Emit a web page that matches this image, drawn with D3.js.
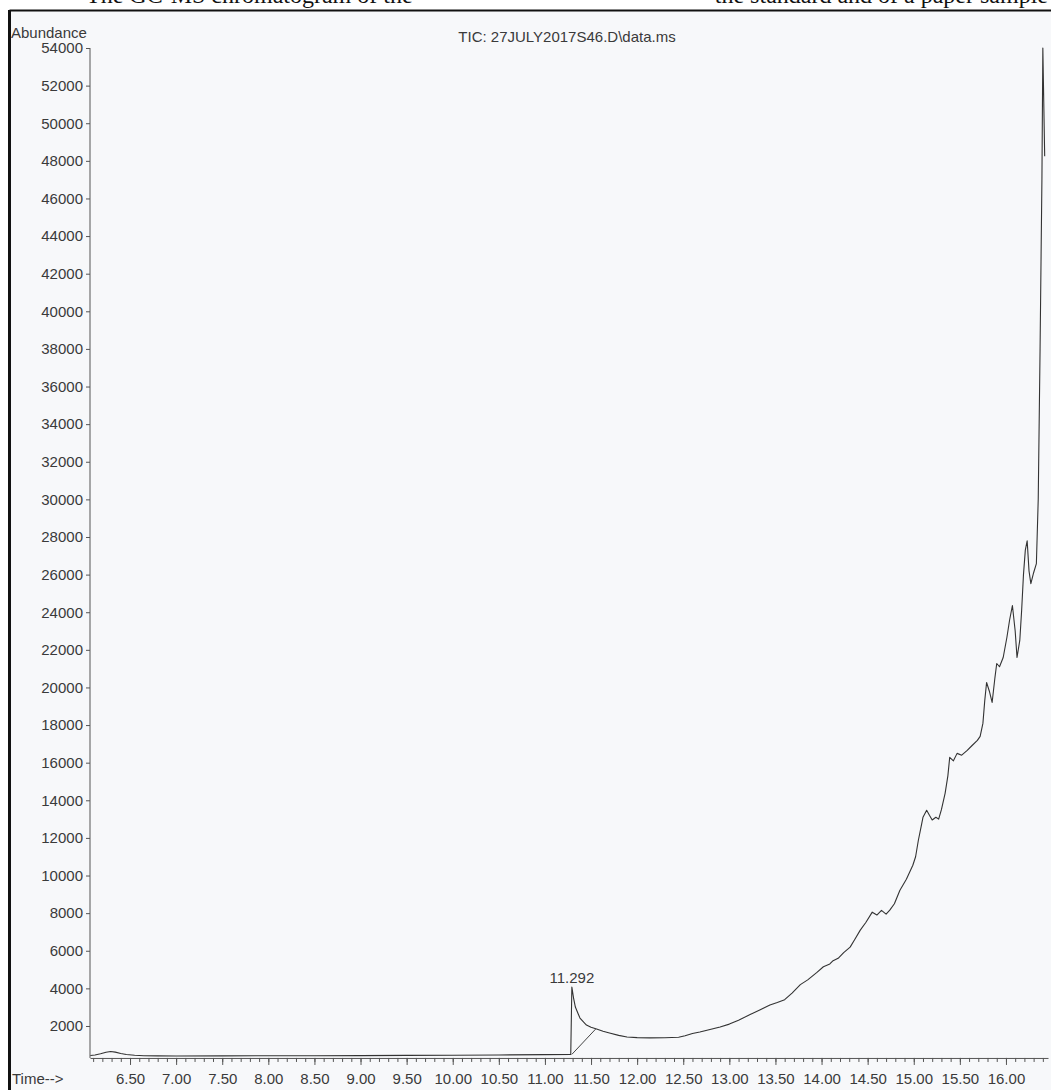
<!DOCTYPE html>
<html>
<head>
<meta charset="utf-8">
<script src="https://cdn.jsdelivr.net/npm/d3@7"></script>
<style>
  body { margin: 0; background: #fff; }
  svg { display: block; }
  .axis text { font-family: "Liberation Sans", Arial, sans-serif; font-size: 15px; fill: #3a3a3a; }
  .axis path, .axis line { stroke: #555; }
</style>
</head>
<body>
<div id="chart-area"></div>
<script>
// Data (time in min, abundance)
const times = [
  6.07, 6.12, 6.18, 6.24, 6.29, 6.34, 6.40, 6.46, 6.55, 6.65, 6.80, 7.00, 7.50, 8.00, 8.50,
  9.00, 9.50, 10.00, 10.50, 11.00, 11.28, 11.292, 11.31, 11.33, 11.36, 11.38, 11.42, 11.45,
  11.50, 11.56, 11.63, 11.70, 11.80, 11.89, 12.00, 12.14, 12.30, 12.45, 12.52, 12.60, 12.68,
  12.79, 12.90, 13.00, 13.10, 13.22, 13.33, 13.44, 13.52, 13.60, 13.68, 13.77, 13.85, 13.95,
  14.02, 14.09, 14.12, 14.18, 14.24, 14.31, 14.36, 14.42, 14.48, 14.55, 14.60, 14.65, 14.70,
  14.74, 14.79, 14.85, 14.92, 14.99, 15.02, 15.05, 15.08, 15.10, 15.14, 15.17, 15.20, 15.24,
  15.27, 15.30, 15.34, 15.37, 15.39, 15.43, 15.47, 15.52, 15.58, 15.63, 15.69, 15.72, 15.75,
  15.77, 15.79, 15.82, 15.85, 15.88, 15.90, 15.93, 15.97, 16.01, 16.04, 16.07, 16.10, 16.12,
  16.15, 16.17, 16.19, 16.21, 16.23, 16.25, 16.27, 16.30, 16.33, 16.35, 16.37, 16.39, 16.40,
  16.42
]
const abundance = [
  430, 460, 520, 600, 640, 610, 540, 480, 440, 420, 410, 405, 410, 415, 420,
  425, 435, 445, 460, 475, 490, 4068, 3500, 3006, 2650, 2422, 2200, 2050,
  1930, 1837, 1720, 1625, 1500, 1413, 1380, 1370, 1375, 1400, 1480, 1600, 1680,
  1810, 1950, 2100, 2300, 2600, 2850, 3112, 3250, 3400, 3750, 4200, 4450, 4850,
  5150, 5300, 5450, 5600, 5900, 6193, 6600, 7096, 7500, 8052, 7900, 8150, 7950,
  8158, 8500, 9220, 9800, 10547, 11000, 11875, 12600, 13097, 13469, 13200, 12950, 13100,
  13000, 13500, 14371, 15300, 16283, 16100, 16495, 16400, 16654, 16900, 17185, 17400, 18088,
  19300, 20265, 19800, 19203, 20500, 21274, 21100, 21593, 22655, 23600, 24354, 23000, 21593,
  22500, 24089, 26000, 27300, 27800, 26200, 25522, 26100, 26585, 30000, 38000, 47000, 54000,
  48242
]

// Peak annotation and its integration baseline
const peakLabel = "11.292"
const peakTime = 11.292
const peakValue = 4068
const baseTimes = [11.292, 11.55]
const baseValues = [490, 1837]

// Axis ticks
const yTicks = d3.range(2000, 54001, 2000)
const xMajor = [6.5, 7, 7.5, 8, 8.5, 9, 9.5, 10, 10.5, 11, 11.5, 12, 12.5, 13, 13.5, 14, 14.5, 15, 15.5, 16]
const xMinor = d3.range(61, 165).map(d => d / 10)

const titleText = "TIC: 27JULY2017S46.D\\data.ms"

const W = 1051
const H = 1090

const svg = d3.select("#chart-area").append("svg")
  .attr("width", W)
  .attr("height", H)

// scanned page: caption cut off at the top and the figure box
svg.append("text")
  .attr("x", 86).attr("y", 3)
  .attr("font-family", "Liberation Serif, Times New Roman, serif")
  .attr("font-size", 24)
  .attr("fill", "#111")
  .text("The GC-MS chromatogram of the")
svg.append("text")
  .attr("x", 1048).attr("y", 3)
  .attr("text-anchor", "end")
  .attr("font-family", "Liberation Serif, Times New Roman, serif")
  .attr("font-size", 24)
  .attr("fill", "#111")
  .text("the standard and of a paper sample")

svg.append("rect")
  .attr("x", 10).attr("y", 11)
  .attr("width", W - 10).attr("height", H - 11)
  .attr("fill", "#f7f8fa")
svg.append("line")
  .attr("x1", 9.5).attr("x2", W).attr("y1", 10.5).attr("y2", 10.5)
  .attr("stroke", "#111").attr("stroke-width", 2)
svg.append("line")
  .attr("x1", 9.5).attr("x2", 9.5).attr("y1", 10).attr("y2", H)
  .attr("stroke", "#111").attr("stroke-width", 3)

// Scales
const x = d3.scaleLinear()
  .domain([6.066, 16.456])
  .range([90, 1048])

const y = d3.scaleLinear()
  .domain([0, 54000])
  .range([1063.6, 48])

const axisY = y(300)

// Y axis
const yAxisCall = d3.axisLeft(y)
  .tickValues(yTicks)
  .tickSize(4)
  .tickPadding(3)
  .tickSizeOuter(0)
  .tickFormat(d => d)
const yAxis = svg.append("g")
  .attr("class", "axis")
  .attr("transform", "translate(90, 0)")
  .call(yAxisCall)
yAxis.select(".domain").remove()
yAxis.append("line")
  .attr("x1", 0).attr("x2", 0)
  .attr("y1", y(54000)).attr("y2", axisY)
  .attr("stroke", "#555")

// X axis: minor ticks, then labelled major ticks
const xMinorCall = d3.axisBottom(x)
  .tickValues(xMinor)
  .tickSize(4)
  .tickSizeOuter(0)
  .tickFormat("")
svg.append("g")
  .attr("class", "axis")
  .attr("transform", `translate(0, ${axisY})`)
  .call(xMinorCall)

const xMajorCall = d3.axisBottom(x)
  .tickValues(xMajor)
  .tickSize(7)
  .tickPadding(8.5)
  .tickSizeOuter(0)
  .tickFormat(d3.format(".2f"))
const xAxis = svg.append("g")
  .attr("class", "axis")
  .attr("transform", `translate(0, ${axisY})`)
  .call(xMajorCall)
xAxis.select(".domain").remove()

// Axis captions
svg.append("text")
  .attr("x", 11).attr("y", 38)
  .attr("font-family", "Liberation Sans, Arial, sans-serif")
  .attr("font-size", 15)
  .attr("fill", "#3a3a3a")
  .text("Abundance")

svg.append("text")
  .attr("x", 12).attr("y", 1084)
  .attr("font-family", "Liberation Sans, Arial, sans-serif")
  .attr("font-size", 15)
  .attr("fill", "#3a3a3a")
  .text("Time-->")

svg.append("text")
  .attr("x", 567).attr("y", 42)
  .attr("text-anchor", "middle")
  .attr("font-family", "Liberation Sans, Arial, sans-serif")
  .attr("font-size", 15)
  .attr("fill", "#3a3a3a")
  .text(titleText)

// Trace
const series = times.map((t, i) => ({ t: t, v: abundance[i] }))
const line = d3.line()
  .x(d => x(d.t))
  .y(d => y(d.v))

svg.append("path")
  .datum(series)
  .attr("d", line)
  .attr("fill", "none")
  .attr("stroke", "#333")
  .attr("stroke-width", 1.1)
  .attr("stroke-linejoin", "round")

// Integration baseline under the peak
const base = baseTimes.map((t, i) => ({ t: t, v: baseValues[i] }))
svg.append("path")
  .datum(base)
  .attr("d", line)
  .attr("fill", "none")
  .attr("stroke", "#444")
  .attr("stroke-width", 1)

svg.append("text")
  .attr("x", x(peakTime)).attr("y", y(peakValue) - 4)
  .attr("text-anchor", "middle")
  .attr("font-family", "Liberation Sans, Arial, sans-serif")
  .attr("font-size", 15)
  .attr("fill", "#3a3a3a")
  .text(peakLabel)
</script>
</body>
</html>
